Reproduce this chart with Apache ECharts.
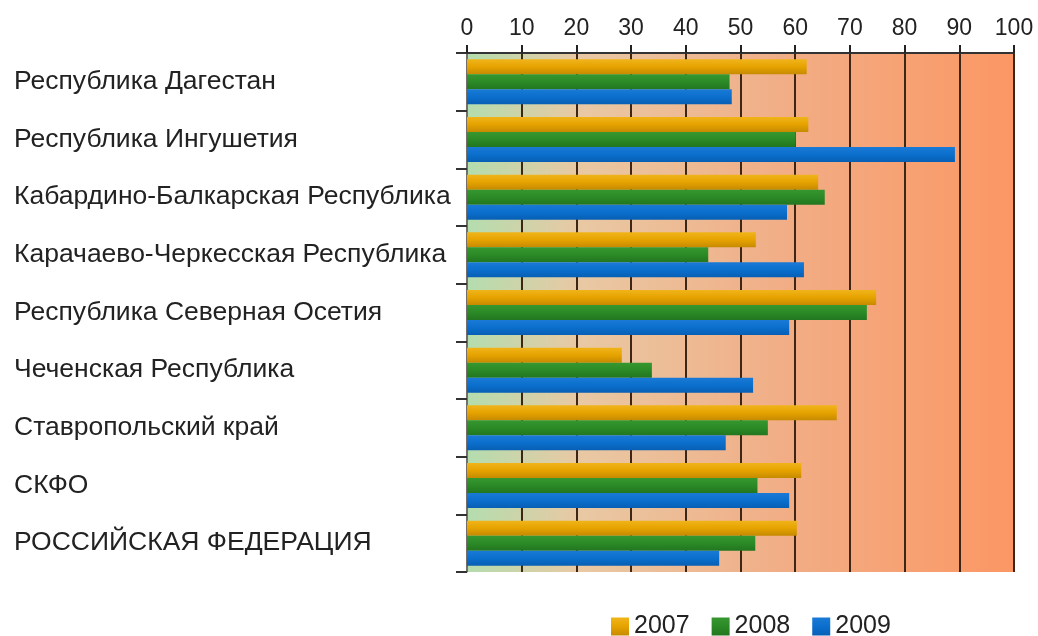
<!DOCTYPE html>
<html>
<head>
<meta charset="utf-8">
<script src="https://cdn.jsdelivr.net/npm/echarts@6/dist/echarts.min.js"></script>
<style>
  html, body { margin: 0; padding: 0; background: #fff; }
  #chart { width: 1038px; height: 636px; }
</style>
</head>
<body>
<div id="chart"></div>
<script>
// регионы сверху вниз
const regions = [
  "Республика Дагестан",
  "Республика Ингушетия",
  "Кабардино-Балкарская Республика",
  "Карачаево-Черкесская Республика",
  "Республика Северная Осетия",
  "Чеченская Республика",
  "Ставропольский край",
  "СКФО",
  "РОССИЙСКАЯ ФЕДЕРАЦИЯ"
];
const years = ["2007", "2008", "2009"];
const v2007 = [62.1, 62.4, 64.2, 52.8, 74.8, 28.3, 67.6, 61.1, 60.3];
const v2008 = [48.0, 60.1, 65.4, 44.1, 73.1, 33.8, 55.0, 53.1, 52.7];
const v2009 = [48.4, 89.2, 58.5, 61.6, 58.9, 52.3, 47.3, 58.9, 46.1];

const fnt = "Liberation Sans, Arial, sans-serif";

function grad(top, mid, bottom) {
  return new echarts.graphic.LinearGradient(0, 0, 0, 1, [
    { offset: 0, color: top },
    { offset: 0.5, color: mid },
    { offset: 1, color: bottom }
  ]);
}
const colors = [
  grad("#f0b41a", "#e6a300", "#c68a00"),
  grad("#36972f", "#2b8a26", "#22761f"),
  grad("#1a7ad6", "#0b6fcd", "#075fb4")
];

const chart = echarts.init(document.getElementById("chart"));
chart.setOption({
  animation: false,
  grid: {
    left: 467, right: 24, top: 53, bottom: 64,
    show: true,
    borderWidth: 0,
    backgroundColor: new echarts.graphic.LinearGradient(0, 0, 1, 0, [
      { offset: 0, color: "#b3ddae" },
      { offset: 0.2, color: "#e8c9a4" },
      { offset: 0.6, color: "#f2ac84" },
      { offset: 1, color: "#fb9764" }
    ])
  },
  legend: {
    top: 609,
    left: 606,
    icon: "rect",
    itemWidth: 18,
    itemHeight: 18,
    itemGap: 22,
    data: years,
    textStyle: { fontFamily: fnt, fontSize: 25, color: "#222" }
  },
  xAxis: {
    type: "value",
    position: "top",
    min: 0, max: 100, interval: 10,
    axisLine: { show: true, lineStyle: { color: "#333", width: 2 } },
    axisTick: { show: true, length: 8, lineStyle: { color: "#222", width: 2 } },
    axisLabel: { fontFamily: fnt, fontSize: 23, color: "#222", margin: 13 },
    splitLine: { show: true, lineStyle: { color: "#3d2616", width: 2 } }
  },
  yAxis: {
    type: "category",
    inverse: true,
    data: regions,
    axisLine: { show: true, lineStyle: { color: "#888", width: 1.5 } },
    axisTick: { show: true, length: 11, lineStyle: { color: "#333", width: 2 } },
    axisLabel: {
      fontFamily: fnt, fontSize: 26.5, color: "#222",
      align: "left", margin: 453, padding: [5, 0, 0, 0]
    }
  },
  series: [
    { name: years[0], type: "bar", data: v2007, itemStyle: { color: colors[0] } },
    { name: years[1], type: "bar", data: v2008, itemStyle: { color: colors[1] } },
    { name: years[2], type: "bar", data: v2009, itemStyle: { color: colors[2] } }
  ].map(s => Object.assign(s, { barGap: "0%", barCategoryGap: "22%" }))
});
</script>
</body>
</html>
